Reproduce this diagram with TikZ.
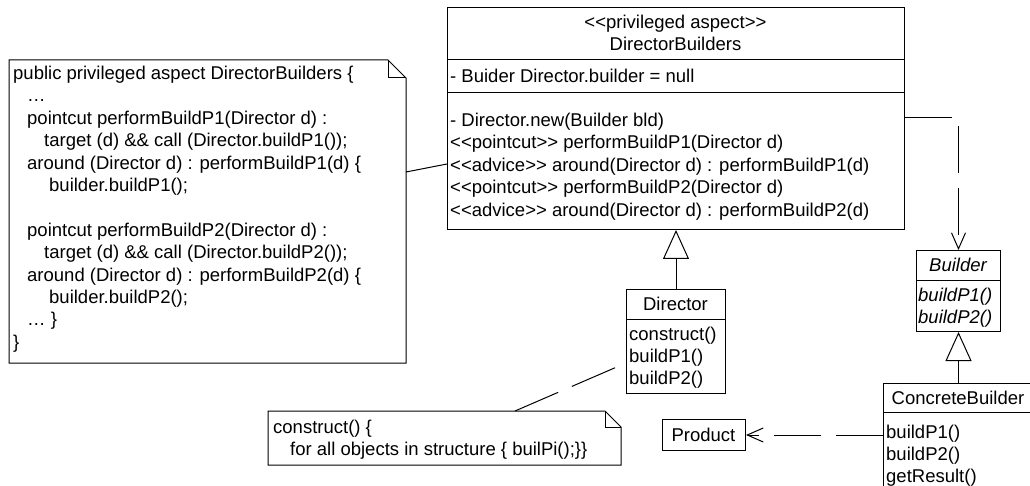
\documentclass[tikz,border=0pt]{standalone}
\usepackage{fontspec}
\newfontfamily\umlfont{Liberation Sans}[Ligatures=TeXOff]
\usetikzlibrary{arrows.meta,calc}
\begin{document}
\begin{tikzpicture}[x=1pt,y=-1pt,
  box/.style={draw, line width=1pt, inner sep=0pt, anchor=north west, fill=white},
  tl/.style={font=\umlfont\fontsize{18.5}{22}\selectfont, inner sep=0pt, anchor=base west},
  tc/.style={tl, anchor=base},
  tli/.style={tl, font=\umlfont\itshape\fontsize{18.5}{22}\selectfont},
  tci/.style={tli, anchor=base},
  sep/.style={line width=1pt},
  dep/.style={line width=1pt, dash pattern=on 47pt off 15pt},
  gen/.style={line width=1pt, -{Triangle[open,length=29pt,width=26pt,fill=white]}},
  depv/.style={dep, -{Straight Barb[length=16pt,width=14pt,line width=1pt]}}]
\useasboundingbox (0,0) rectangle (1030,486);
\clip (0,0) rectangle (1030,486);

% ---- big note ----
\node[box, draw=none, fill=none, minimum width=396pt, minimum height=302pt] (bn) at (9,60) {};
\draw[line width=1pt, fill=white] (bn.north west) -- ($(bn.north east)+(-18,0)$) -- ($(bn.north east)+(0,18)$) -- (bn.south east) -- (bn.south west) -- cycle;
\draw[line width=1pt] ($(bn.north east)+(-18,0)$) |- ($(bn.north east)+(0,18)$);
\node[tl] (n1) at (13,79.5) {public privileged aspect DirectorBuilders \{};
\node[tl] (n2) at (27,101.9) {…};
\node[tl] (n3) at (27,124.3) {pointcut performBuildP1(Director d) :};
\node[tl] (n4) at (44,146.7) {target (d) \&\& call (Director.buildP1());};
\node[tl] (n5) at (27,169.1) {around (Director d) : performBuildP1(d) \{};
\node[tl] (n6) at (49,191.5) {builder.buildP1();};
\node[tl] (n8) at (27,236.3) {pointcut performBuildP2(Director d) :};
\node[tl] (n9) at (44,258.7) {target (d) \&\& call (Director.buildP2());};
\node[tl] (n10) at (27,281.1) {around (Director d) : performBuildP2(d) \{};
\node[tl] (n11) at (49,303.5) {builder.buildP2();};
\node[tl] (n12) at (27,325.9) {… \}};
\node[tl] (n13) at (13,348.3) {\}};

% ---- DirectorBuilders aspect ----
\node[box, minimum width=457pt, minimum height=222pt] (db) at (447,7) {};
\draw[sep] ($(db.north west)+(0,53)$) -- ($(db.north east)+(0,53)$);
\draw[sep] ($(db.north west)+(0,86)$) -- ($(db.north east)+(0,86)$);
\node[tc] (dbs) at (675.5,28.5) {<<privileged aspect>>};
\node[tc] (dbn) at (675.5,50.5) {DirectorBuilders};
\node[tl] (dba) at (450,82.5) {- Buider Director.builder = null};
\node[tl] (dbo1) at (450,126.5) {- Director.new(Builder bld)};
\node[tl] (dbo2) at (450,149) {<<pointcut>> performBuildP1(Director d)};
\node[tl] (dbo3) at (450,171.5) {<<advice>> around(Director d) : performBuildP1(d)};
\node[tl] (dbo4) at (450,194) {<<pointcut>> performBuildP2(Director d)};
\node[tl] (dbo5) at (450,216.5) {<<advice>> around(Director d) : performBuildP2(d)};

% ---- Director ----
\node[box, minimum width=99pt, minimum height=104pt] (dir) at (626,289) {};
\draw[sep] ($(dir.north west)+(0,30)$) -- ($(dir.north east)+(0,30)$);
\node[tc] (dirn) at (675.5,310.5) {Director};
\node[tl] (diro1) at (629,340.5) {construct()};
\node[tl] (diro2) at (629,362.5) {buildP1()};
\node[tl] (diro3) at (629,384.5) {buildP2()};

% ---- Builder ----
\node[box, minimum width=84pt, minimum height=81pt] (bld) at (916,250) {};
\draw[sep] ($(bld.north west)+(0,30)$) -- ($(bld.north east)+(0,30)$);
\node[tci] (bldn) at (958,271.5) {Builder};
\node[tli] (bldo1) at (918,301.5) {buildP1()};
\node[tli] (bldo2) at (918,323.5) {buildP2()};

% ---- ConcreteBuilder ----
\node[box, minimum width=150pt, minimum height=110pt] (cb) at (883,383) {};
\draw[sep] ($(cb.north west)+(0,29)$) -- ($(cb.north east)+(0,29)$);
\node[tc] (cbn) at (958,404.5) {ConcreteBuilder};
\node[tl] (cbo1) at (886,438.5) {buildP1()};
\node[tl] (cbo2) at (886,460.5) {buildP2()};
\node[tl] (cbo3) at (886,482.5) {getResult()};

% ---- Product ----
\node[box, minimum width=83pt, minimum height=31pt] (prod) at (662,419) {};
\node[tc] (prodn) at (703.5,441) {Product};

% ---- small note ----
\node[box, draw=none, fill=none, minimum width=352pt, minimum height=53pt] (sn) at (268,411) {};
\draw[line width=1pt, fill=white] (sn.north west) -- ($(sn.north east)+(-16,0)$) -- ($(sn.north east)+(0,16)$) -- (sn.south east) -- (sn.south west) -- cycle;
\draw[line width=1pt] ($(sn.north east)+(-16,0)$) |- ($(sn.north east)+(0,16)$);
\node[tl] (sn1) at (273,433.5) {construct() \{};
\node[tl] (sn2) at (290,455.5) {for all objects in structure \{ builPi();\}\}};

% ---- connectors ----
\draw[dep] ($(bn.north east)+(0,112)$) -- ($(db.north west)+(0,157)$);
\draw[dep] ($(sn.north west)+(247,0)$) -- ($(dir.north west)+(0,74)$);
\draw[depv] ($(db.north east)+(0,111)$) -| (bld.north);
\draw[depv] (cb.west |- prod.east) -- (prod.east);
\draw[gen] (dir.north) -- (db.south);
\draw[gen] (bld.south |- cb.north) -- (bld.south);
\end{tikzpicture}
\end{document}
